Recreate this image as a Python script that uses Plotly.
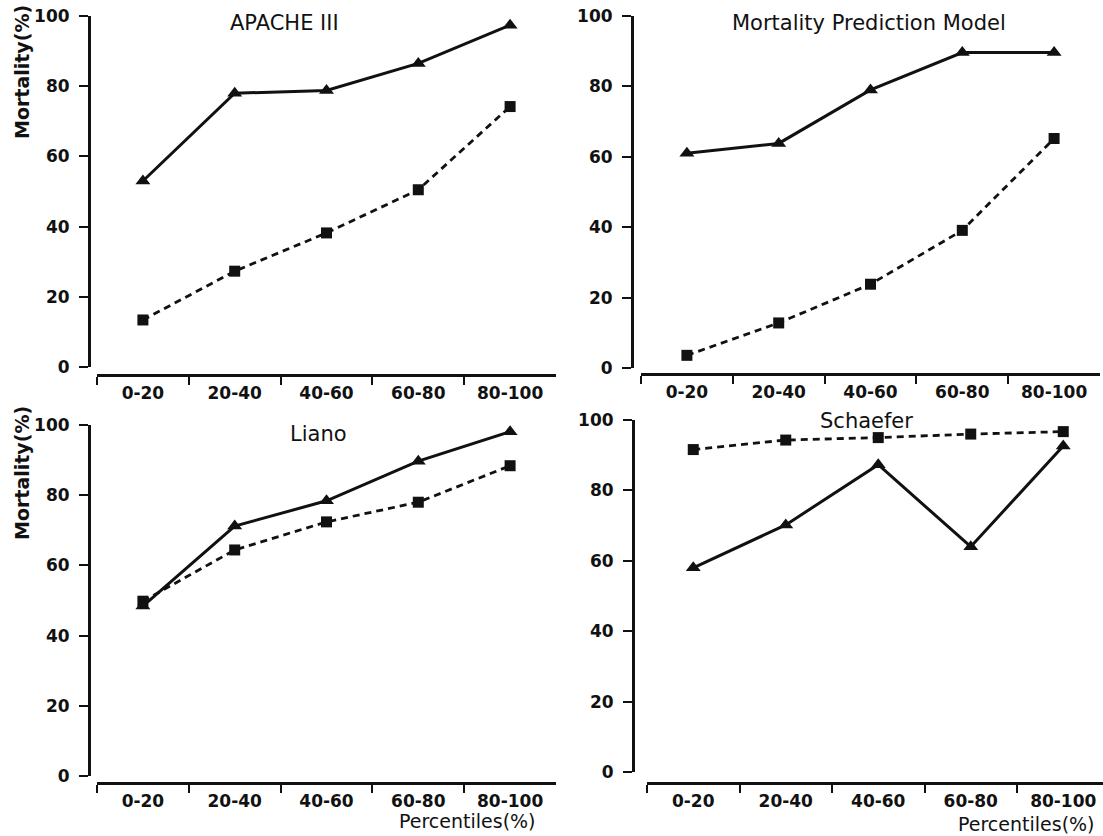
import plotly.graph_objects as go

# ---------------- data ----------------
categories = ["0-20", "20-40", "40-60", "60-80", "80-100"]

apache_tri = [53.0, 78.0, 78.8, 86.5, 97.4]
apache_sq = [13.4, 27.3, 38.2, 50.5, 74.2]

mpm_tri = [61.0, 63.8, 79.0, 89.6, 89.6]
mpm_sq = [3.6, 12.8, 23.8, 39.1, 65.2]

liano_tri = [48.4, 71.2, 78.4, 89.7, 98.1]
liano_sq = [49.8, 64.4, 72.4, 78.0, 88.4]

schaefer_tri = [58.0, 70.2, 87.3, 64.0, 92.6]
schaefer_sq = [91.6, 94.3, 95.0, 96.0, 96.7]

panel_titles = ["APACHE III", "Mortality Prediction Model", "Liano", "Schaefer"]
y_ticks = [0, 20, 40, 60, 80, 100]
y_title = "Mortality(%)"
x_title = "Percentiles(%)"

# ---------------- layout helpers ----------------
W, H = 1103, 836


def fx(p):
    return p / W


def fy(p):
    return 1 - p / H


# (x-domain px, x-range, x-axis y px, y-axis x px, y-domain px (top=100, bottom=0))
panels = [
    dict(xd=(97, 556), xr=[-0.5, 4.5], xay=375, yax=89, yd=(16, 367)),
    dict(xd=(641, 1100), xr=[-0.5, 4.5], xay=374, yax=632, yd=(16, 368)),
    dict(xd=(97, 556), xr=[-0.5, 4.5], xay=783, yax=89, yd=(425, 776)),
    dict(xd=(647, 1103), xr=[-0.5, -0.5 + 456 / 92.5], xay=783, yax=633, yd=(420, 772)),
]
series = [
    (apache_tri, apache_sq),
    (mpm_tri, mpm_sq),
    (liano_tri, liano_sq),
    (schaefer_tri, schaefer_sq),
]

FONT = "DejaVu Sans"
INK = "#111111"

fig = go.Figure()
layout = {}

for i, (pnl, (tri, sq)) in enumerate(zip(panels, series)):
    n = "" if i == 0 else str(i + 1)
    xa, ya = "x" + n, "y" + n
    fig.add_trace(go.Scatter(
        x=categories, y=sq, xaxis=xa, yaxis=ya, mode="lines+markers",
        line=dict(color=INK, width=2.8, dash="7px,5px"),
        marker=dict(symbol="square", size=11, color=INK),
        cliponaxis=False, showlegend=False))
    fig.add_trace(go.Scatter(
        x=categories, y=tri, xaxis=xa, yaxis=ya, mode="lines+markers",
        line=dict(color=INK, width=3),
        marker=dict(symbol="triangle-up", size=13, color=INK),
        cliponaxis=False, showlegend=False))

    layout["xaxis" + n] = dict(
        type="category", categoryorder="array", categoryarray=categories,
        domain=[fx(pnl["xd"][0]), fx(pnl["xd"][1])], range=pnl["xr"],
        anchor="free", position=fy(pnl["xay"]),
        showline=True, linecolor=INK, linewidth=2.8,
        ticks="outside", tickson="boundaries", ticklen=8, tickwidth=2.4, tickcolor=INK,
        ticklabelstandoff=2,
        showgrid=False, zeroline=False, fixedrange=True,
        tickfont=dict(family=FONT, size=17, color=INK, weight="bold"),
    )
    layout["yaxis" + n] = dict(
        domain=[fy(pnl["yd"][1]), fy(pnl["yd"][0])], range=[0, 100],
        anchor="free", position=fx(pnl["yax"]),
        tickmode="array", tickvals=y_ticks,
        showline=True, linecolor=INK, linewidth=3,
        ticks="outside", ticklen=9, tickwidth=2.4, tickcolor=INK,
        ticklabelstandoff=6,
        showgrid=False, zeroline=False, fixedrange=True,
        tickfont=dict(family=FONT, size=17, color=INK, weight="bold"),
    )

annotations = []
title_pos = [(284, 23), (869, 23), (318, 434), (866, 421)]
for t, (px, py) in zip(panel_titles, title_pos):
    annotations.append(dict(text=t, x=fx(px), y=fy(py), xref="paper", yref="paper",
                            xanchor="center", yanchor="middle", showarrow=False,
                            font=dict(family=FONT, size=21, color=INK)))
for py in (72, 473):
    annotations.append(dict(text=y_title, x=fx(22), y=fy(py), xref="paper", yref="paper",
                            xanchor="center", yanchor="middle", textangle=-90, showarrow=False,
                            font=dict(family=FONT, size=19, color=INK, weight="bold")))
for px, py in ((538, 821), (1097, 824)):
    annotations.append(dict(text=x_title, x=fx(px), y=fy(py), xref="paper", yref="paper",
                            xanchor="right", yanchor="middle", showarrow=False,
                            font=dict(family=FONT, size=19, color=INK)))

fig.update_layout(
    width=W, height=H, margin=dict(l=0, r=0, t=0, b=0, autoexpand=False),
    paper_bgcolor="white", plot_bgcolor="white",
    annotations=annotations, **layout)

fig.write_html(
    "out.html",
    config={"displayModeBar": False},
    post_script="document.body.style.margin='0';document.body.style.overflow='hidden';",
)
